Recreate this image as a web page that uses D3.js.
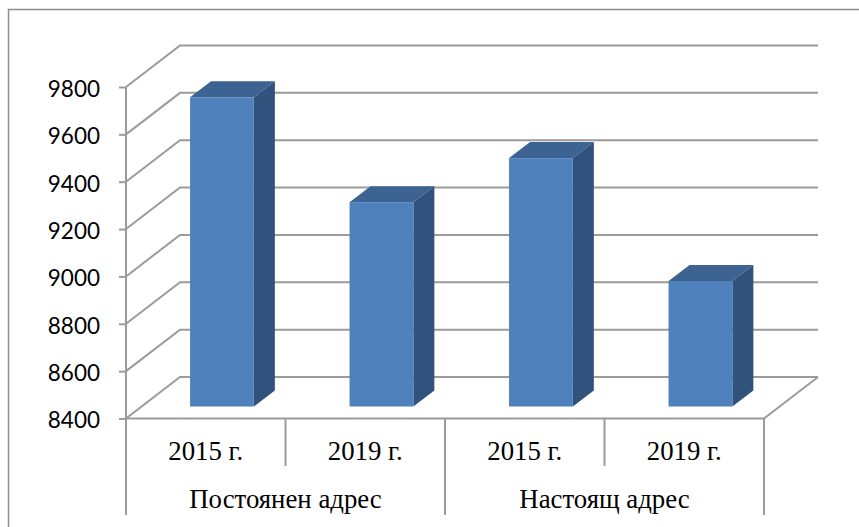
<!DOCTYPE html>
<html>
<head>
<meta charset="utf-8">
<script src="https://cdn.jsdelivr.net/npm/d3@7"></script>
<style>
  html, body { margin: 0; padding: 0; background: #fff; overflow: hidden; }
  svg { display: block; }
</style>
</head>
<body>
<svg class="bar-chart"></svg>
<script>
const years = ['2015 г.', '2019 г.', '2015 г.', '2019 г.'];
const groups = ['Постоянен адрес', 'Настоящ адрес'];
const values = [9706, 9263, 9449, 8930];
const yTicks = [8400, 8600, 8800, 9000, 9200, 9400, 9600, 9800];

const svgWidth = 859, svgHeight = 527;
const grey = '#9b9b9b';

const svg = d3.select('svg.bar-chart')
    .attr('width', svgWidth)
    .attr('height', svgHeight);

// front edge of the floor and the value axis
const x = d3.scaleBand()
    .domain(d3.range(values.length))
    .range([126, 764]);

const y = d3.scaleLinear()
    .domain([8400, 9800])
    .range([418.5, 87]);

// how far the back wall sits from the front edge
const wallDx = 54, wallDy = -41.5;
// how far a bar sits in from the front edge, and its own depth
const barDx = 16.2, barDy = -12;
const depthDx = 21, depthDy = -16;
const barWidth = x.bandwidth() * 0.4;

// outer frame, runs off the page on the right and at the bottom
svg.append('path')
    .attr('d', 'M8.5,' + (svgHeight + 2) + 'V9.5H' + (svgWidth + 2))
    .attr('fill', 'none')
    .attr('stroke', '#8c8c8c')
    .attr('stroke-width', 1.5);

const grid = svg.append('g')
    .attr('fill', 'none')
    .attr('stroke', grey)
    .attr('stroke-width', 2);

grid.selectAll('path.wall')
    .data(yTicks)
    .enter().append('path')
    .attr('class', 'wall')
    .attr('d', function(d) {
      return 'M' + x.range()[0] + ',' + y(d) +
        'L' + (x.range()[0] + wallDx) + ',' + (y(d) + wallDy) +
        'H' + (x.range()[1] + wallDx);
    });

// floor, right side
grid.append('path')
    .attr('d', 'M' + x.range()[0] + ',' + y(8400) +
      'H' + x.range()[1] +
      'L' + (x.range()[1] + wallDx) + ',' + (y(8400) + wallDy));

// value axis
const yAxis = svg.append('g')
    .attr('transform', 'translate(' + x.range()[0] + ',0)')
    .call(d3.axisLeft(y).tickValues(yTicks).tickFormat(d3.format('d')).tickSize(7).tickPadding(19));

yAxis.select('.domain').remove();
yAxis.selectAll('line').attr('stroke', grey).attr('stroke-width', 2);
yAxis.selectAll('text')
    .attr('font-family', 'Lato')
    .attr('font-size', 22.5)
    .attr('dy', '0.42em')
    .attr('fill', '#000');

yAxis.append('line')
    .attr('y1', y(9800))
    .attr('y2', 515)
    .attr('stroke', grey)
    .attr('stroke-width', 2);

// bars
const bars = svg.selectAll('g.bar')
    .data(values)
    .enter().append('g')
    .attr('class', 'bar');

function barLeft(i) { return x(i) + (x.bandwidth() - barWidth) / 2 + barDx; }

// top
bars.append('path')
    .attr('fill', '#3d6392')
    .attr('d', function(d, i) {
      const l = barLeft(i), t = y(d) + barDy;
      return 'M' + l + ',' + t + 'h' + barWidth + 'l' + depthDx + ',' + depthDy + 'h' + (-barWidth) + 'Z';
    });

// side
bars.append('path')
    .attr('fill', '#31527c')
    .attr('d', function(d, i) {
      const r = barLeft(i) + barWidth, t = y(d) + barDy, b = y(8400) + barDy;
      return 'M' + r + ',' + t + 'l' + depthDx + ',' + depthDy + 'V' + (b + depthDy) + 'L' + r + ',' + b + 'Z';
    });

// front
bars.append('rect')
    .attr('fill', '#4f81bd')
    .attr('x', function(d, i) { return barLeft(i); })
    .attr('y', function(d) { return y(d) + barDy; })
    .attr('width', barWidth)
    .attr('height', function(d) { return y(8400) - y(d); });

// category axis, two levels
const catAxis = svg.append('g')
    .attr('stroke', grey)
    .attr('stroke-width', 2);

d3.range(values.length + 1).forEach(function(i) {
  const px = x.range()[0] + i * x.bandwidth();
  if (i === 0) return; // already drawn with the value axis
  catAxis.append('line')
      .attr('x1', px).attr('x2', px)
      .attr('y1', y(8400))
      .attr('y2', i % 2 === 0 ? 515 : 466);
});

svg.selectAll('text.year')
    .data(years)
    .enter().append('text')
    .attr('class', 'year')
    .attr('x', function(d, i) { return x(i) + x.bandwidth() / 2; })
    .attr('y', 460)
    .attr('text-anchor', 'middle')
    .attr('font-family', 'Liberation Serif')
    .attr('font-size', 26.8)
    .text(function(d) { return d; });

svg.selectAll('text.group')
    .data(groups)
    .enter().append('text')
    .attr('class', 'group')
    .attr('x', function(d, i) { return x(i * 2) + x.bandwidth(); })
    .attr('y', 508)
    .attr('text-anchor', 'middle')
    .attr('font-family', 'Liberation Serif')
    .attr('font-size', 26.8)
    .text(function(d) { return d; });
</script>
</body>
</html>
